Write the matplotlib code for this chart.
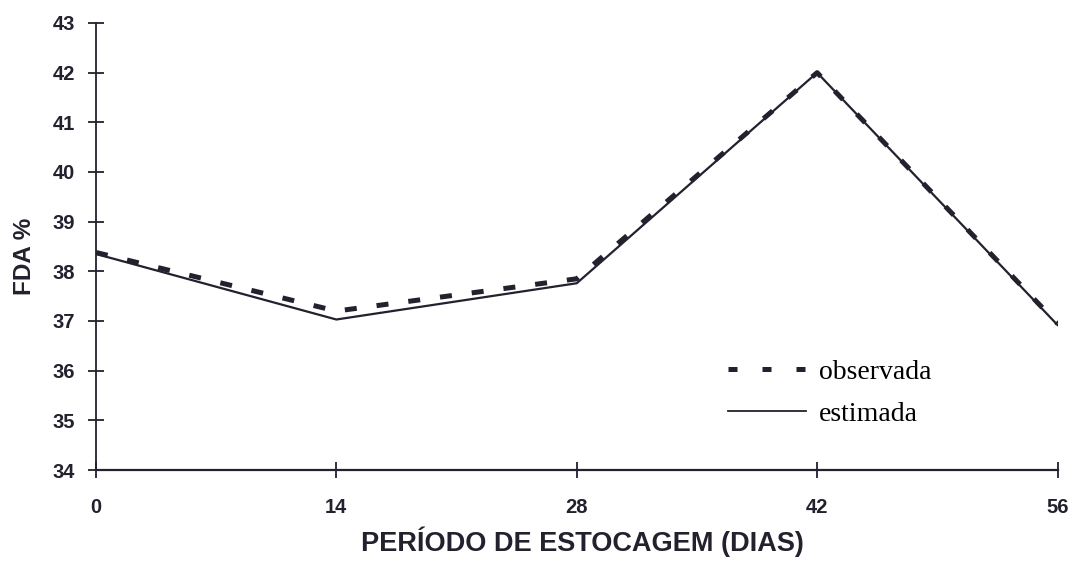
import matplotlib
matplotlib.use("Agg")
import matplotlib.pyplot as plt
from matplotlib.lines import Line2D

# Storage period (days) and ADF content (%)
dias = [0, 14, 28, 42, 56]
fda_observada = [38.38, 37.20, 37.85, 42.00, 36.95]
fda_estimada = [38.35, 37.03, 37.76, 42.00, 36.92]
y_ticks = list(range(34, 44))

ink = "#23212e"
label_font = ["Liberation Sans", "DejaVu Sans"]

fig = plt.figure(figsize=(10.71, 5.66), dpi=100)
ax = fig.add_axes([0.0896, 0.1696, 0.8978, 0.7898])

ax.plot(dias, fda_observada, color=ink, lw=3.6, linestyle=(0, (2.4, 4.0)),
        solid_capstyle="butt", dash_capstyle="butt")
ax.plot(dias, fda_estimada, color=ink, lw=1.6, solid_joinstyle="miter")

ax.set_xlim(0, 56)
ax.set_ylim(34, 43)
ax.set_xticks(dias)
ax.set_yticks(y_ticks)

for side in ("top", "right"):
    ax.spines[side].set_visible(False)
for side in ("left", "bottom"):
    ax.spines[side].set_color(ink)
ax.spines["bottom"].set_linewidth(1.6)
ax.spines["left"].set_linewidth(1.3)

ax.tick_params(axis="both", direction="inout", length=12, width=1.3, colors=ink)
ax.tick_params(axis="y", pad=9)
ax.tick_params(axis="x", pad=14)

for lab in ax.get_xticklabels() + ax.get_yticklabels():
    lab.set_fontfamily(label_font)
    lab.set_fontweight("bold")
    lab.set_fontsize(14.5)
    lab.set_color(ink)

ax.set_xlabel("PERÍODO DE ESTOCAGEM (DIAS)", fontsize=19.5, fontweight="bold",
              x=0.506, family=label_font, color=ink, labelpad=7)
ax.set_ylabel("FDA %", fontsize=17.5, fontweight="bold", y=0.479,
              family=label_font, color=ink, labelpad=12)

handles = [
    Line2D([], [], color=ink, lw=3.6, linestyle=(0, (1.8, 5.0)), dash_capstyle="butt"),
    Line2D([], [], color=ink, lw=1.3),
]
ax.legend(handles, ["observada", "estimada"], loc="upper left",
          bbox_to_anchor=(0.6577, 0.247), borderaxespad=0, borderpad=0,
          frameon=False, handlelength=2.8, handletextpad=0.47, labelspacing=0.58,
          prop={"family": ["Liberation Serif", "DejaVu Serif"], "size": 20})

fig.savefig("out.png", dpi=100, facecolor="white")
